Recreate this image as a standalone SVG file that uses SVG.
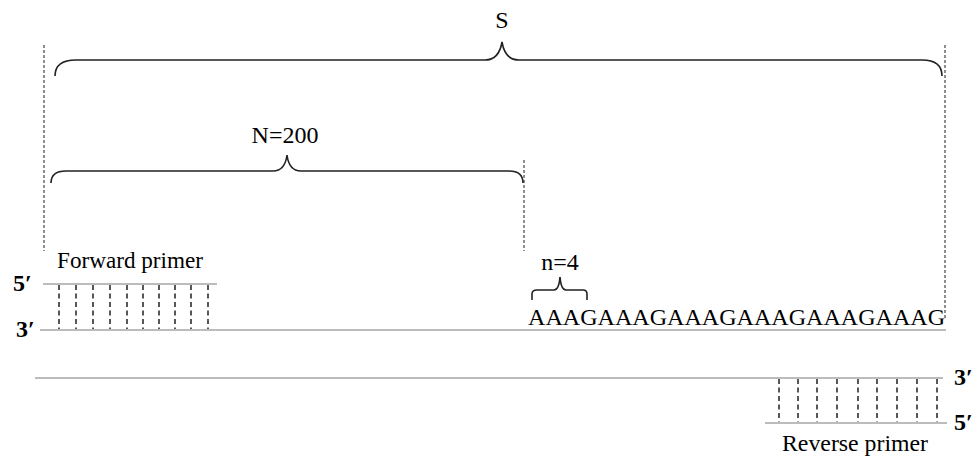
<svg xmlns="http://www.w3.org/2000/svg" width="980" height="460" viewBox="0 0 980 460">
<style>
.t{font-family:"Liberation Serif","Times New Roman",serif;font-size:24px;fill:#000}
.b{font-family:"Liberation Serif","Times New Roman",serif;font-size:24px;font-weight:bold;fill:#000}
.strand{stroke:#a6a6a6;stroke-width:1.3;fill:none}
.guide{stroke:#444;stroke-width:1.2;stroke-dasharray:3 2;fill:none}
.bond{stroke:#111;stroke-width:1.4;stroke-dasharray:5 3.5;fill:none}
.brace{stroke:#222;stroke-width:1.6;fill:none}
</style>
<rect width="980" height="460" fill="#fff"/>
<g id="guides">
<line class="guide" x1="44" y1="45" x2="44" y2="251"/>
<line class="guide" x1="945" y1="45" x2="945" y2="318"/>
<line class="guide" x1="524" y1="160" x2="524" y2="251"/>
</g>
<g id="brace-S">
<path class="brace" d="M55,76 Q55,60 76,60 L485,60 Q499,60 502,42 Q505,60 519,60 L922,60 Q942,60 942,76"/>
<text class="t" x="502" y="28" text-anchor="middle">S</text>
</g>
<g id="brace-N">
<path class="brace" stroke="#555" d="M51,183 Q51,171 66,171 L273,171 Q285,171 287,155 Q289,171 301,171 L509,171 Q523,171 523,183"/>
<text class="t" x="285" y="143" text-anchor="middle">N=200</text>
</g>
<g id="brace-n">
<path class="brace" d="M532,300 L532,294 Q532,290 537,290 L554,290 Q559,290 560,277 Q561,290 566,290 L583,290 Q587,290 587,294 L587,300"/>
<text class="t" x="560" y="270" text-anchor="middle">n=4</text>
</g>
<g id="top-strand">
<line class="strand" x1="43" y1="284" x2="217" y2="284"/>
<line class="strand" x1="40" y1="330" x2="946" y2="330"/>
<text class="b" x="13" y="291">5′</text>
<text class="b" x="16" y="337">3′</text>
<text class="t" x="57" y="268" textLength="146" lengthAdjust="spacingAndGlyphs">Forward primer</text>
<text class="t" x="528" y="325" textLength="417" lengthAdjust="spacingAndGlyphs">AAAGAAAGAAAGAAAGAAAGAAAG</text>
</g>
<g id="forward-primer">
<path class="bond" d="M59,285V329M76,285V329M93,285V329M110,285V329M127,285V329M143,285V329M159,285V329M175,285V329M191,285V329M208,285V329"/>
</g>
<g id="bottom-strand">
<line class="strand" x1="35" y1="378" x2="943" y2="378"/>
<line class="strand" x1="765" y1="423" x2="947" y2="423"/>
<text class="b" x="954" y="385">3′</text>
<text class="b" x="954" y="430">5′</text>
<text class="t" x="782" y="451" textLength="146" lengthAdjust="spacingAndGlyphs">Reverse primer</text>
</g>
<g id="reverse-primer">
<path class="bond" d="M779,379V422M798,379V422M817,379V422M837,379V422M858,379V422M877,379V422M897,379V422M917,379V422M937,379V422"/>
</g>
</svg>
